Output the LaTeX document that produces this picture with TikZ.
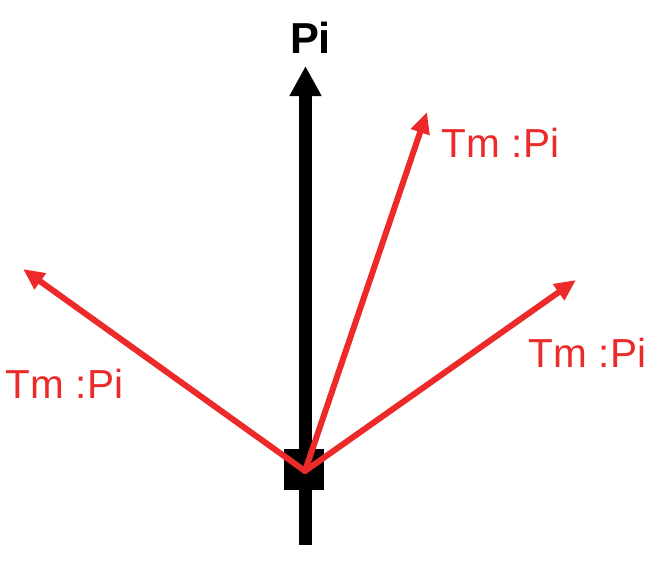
\documentclass[tikz,border=0pt]{standalone}
\usepackage{fontspec}
\setmainfont{Liberation Sans}
\usepackage{tikz}
\usetikzlibrary{arrows.meta}
\definecolor{axisInk}{HTML}{000000}
\definecolor{tmRed}{HTML}{EC2A2A}
\newcommand{\tmtext}{Tm :\hspace{0.04em}Pi}

\begin{document}
\begin{tikzpicture}[
  x=0.75pt, y=-0.75pt,
  axis/.style={-{Triangle[length=22.5pt,width=22.5pt]}, line width=9.75pt, draw=axisInk},
  tm/.style={-{Triangle[length=16pt,width=14pt]}, line width=4.5pt, draw=tmRed,
             line cap=round},
  basebox/.style={fill=axisInk, minimum width=30pt, minimum height=30.75pt,
                  inner sep=0pt},
  tmlbl/.style={font=\fontsize{30.4}{36}\selectfont, text=tmRed, inner sep=0pt,
                anchor=base west},
  pilbl/.style={font=\fontsize{32.5}{38}\selectfont\bfseries, text=axisInk,
                inner sep=0pt, anchor=base},
]
\useasboundingbox (0,0) rectangle (657,561);

% ---------------- NODES (pixel grid) ----------------
\coordinate (AXbot) at (305.5,545);
\coordinate (AXtop) at (305.5,66);
\node[basebox] (BASE) at (304,469.5) {};
\coordinate (O) at (305,471);
\coordinate (TIP1) at (427,112);
\coordinate (TIP2) at (23,269);
\coordinate (TIP3) at (576,280);

\node[pilbl] (PI) at (310.5,53) {Pi};
\node[tmlbl] (TM1) at (441,157) {\tmtext};
\node[tmlbl] (TM2) at (5,398) {\tmtext};
\node[tmlbl] (TM3) at (528,367) {\tmtext};

% ---------------- EDGES ----------------
\draw[axis] (AXbot) -- (AXtop);
\draw[tm] (O) -- (TIP1);
\draw[tm] (O) -- (TIP2);
\draw[tm] (O) -- (TIP3);
\end{tikzpicture}
\end{document}
